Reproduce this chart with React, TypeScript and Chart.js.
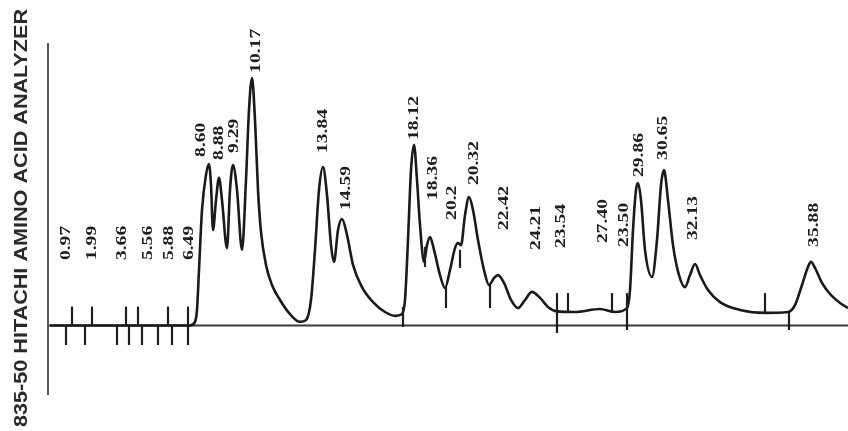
import React, { useEffect, useRef } from "react";
import { Chart, registerables } from "chart.js";

Chart.register(...registerables);

// Recorder trace: chart position (mm along paper) vs detector signal (arbitrary units)
const traceX = [
  0, 35, 36.25, 36.75, 37.25, 38, 39, 39.75, 40.25, 40.75, 41.5, 42.25, 43, 44.25, 45, 45.75, 46.75, 48,
  49, 49.75, 50.5, 51.25, 52, 52.75, 54, 55.5, 57.5, 60, 62.5, 64, 65.25, 66.25, 67.25, 68.25, 69.25,
  70.25, 71, 72, 73, 74.25, 75.75, 78, 80.75, 83.75, 86.25, 88, 88.75, 89.5, 90.25, 91, 91.75, 92.5,
  93.5, 94.25, 95, 96, 97.5, 98.75, 100, 101.25, 102, 102.75, 103.75, 104.75, 105.75, 107, 108.5,
  109.75, 111, 112, 113.5, 115.25, 117, 118.75, 120.5, 122.5, 124.5, 126.5, 131.25, 137.5, 141.25,
  144.25, 145, 145.75, 146.5, 147, 147.75, 148.75, 150.5, 151.75, 152.75, 153.5, 154.5, 155.75,
  157.25, 158.75, 160, 161.25, 162.5, 164.5, 167.5, 172.5, 178.75, 184.5, 186.25, 188, 189.5, 190.25,
  191.25, 193, 195, 197.5, 199.5,
];
const traceY = [
  0, 0, 1.2, 5.2, 18.5, 38.5, 50.2, 53.8, 46.8, 31.8, 41.8, 49.2, 41.8, 25.8, 45.2, 53.5, 45.2, 25.2,
  48.5, 71.8, 82.5, 68.5, 45.2, 31.2, 20.2, 13.5, 8.5, 3.8, 1.2, 1.8, 8.5, 25.2, 45.2, 52.8, 43.5,
  26.8, 21.2, 31.8, 35.5, 30.2, 20.2, 12.8, 7.8, 4.5, 3.2, 3.8, 8.5, 28.5, 51.8, 60.2, 48.5, 33.5,
  21.2, 26.8, 29.5, 25.2, 16.8, 12.5, 18.5, 25.8, 27.5, 26.8, 36.8, 42.8, 38.5, 28.5, 18.5,
  13.5, 15.8, 16.8, 14.2, 8.5, 5.8, 8.5, 11.2, 9.2, 6.2, 4.8, 4.5, 5.5, 4.5,
  5.8, 11.8, 31.8, 45.2, 47.5, 41.8, 25.2, 16.2, 28.5, 46.8, 51.8, 41.8, 26.8,
  16.8, 12.8, 16.8, 20.5, 16.8, 11.8, 7.8, 5.2, 4.2, 4.5, 6.8, 13.5, 19.5, 21.2,
  19.2, 14.2, 10.5, 7.5, 5.8,
];

// Retention-time labels printed by the integrator
const peakLabels = [
  "0.97", "1.99", "3.66", "5.56", "5.88", "6.49", "8.60", "8.88", "9.29", "10.17", "13.84", "14.59",
  "18.12", "18.36", "20.2", "20.32", "22.42", "24.21", "23.54", "27.40", "23.50", "29.86", "30.65",
  "32.13", "35.88",
];
const labelX = [
  3.75, 10.4, 17.9, 24.2, 29.6, 34.6, 37.5, 42, 45.75, 51.25, 68, 73.75,
  90.75, 95.5, 100.25, 105.75, 113.25, 121.25, 127.5, 138, 143.25, 147, 153,
  160.5, 190.75,
];
const labelBottomY = [
  21.8, 21.8, 21.8, 21.8, 21.8, 21.8, 56.2, 55.2, 57.5, 84.2, 57.5, 38.5,
  61.8, 41.8, 35.2, 46.8, 31.8, 25.2, 25.8, 27.5, 26.2, 49.5, 55.2,
  28.5, 26.2,
];

// Event marks on the zero line
const baseTickUpX = [5.4, 10.4, 19, 22.1, 29.6, 34.6];
const baseTickDownX = [4, 8.75, 16.7, 19.8, 22.9, 27.1, 30.4, 34.6];
const baseTickUpTop = 6.3;
const baseTickDownBottom = -6.5;

// Event marks drawn on the trace
const traceTickX = [88.25, 93.75, 99, 102.5, 110, 126.75, 129.5, 140.5, 144.25, 178.75, 184.75];
const traceTickTop = [6.2, 26.2, 12.8, 25.2, 13.5, 10.8, 10.8, 10.8, 10.8, 10.8, 4.5];
const traceTickBottom = [-0.5, 19.5, 5.8, 19.2, 5.8, -2.5, 4.2, 4.2, -1.5, 4.5, -1.5];

const axisLineX = -0.5;
const axisLineTop = 94.2;
const axisLineBottom = -23.2;
const titleText = "835-50 HITACHI AMINO ACID ANALYZER";

const overlayPlugin = {
  id: "chromOverlay",
  beforeDatasetsDraw(chart: any) {
    const { ctx, scales } = chart;
    const xs = scales.x;
    const ys = scales.y;
    ctx.save();
    // zero line
    ctx.strokeStyle = "#3a3a3a";
    ctx.lineWidth = 2;
    ctx.beginPath();
    ctx.moveTo(xs.getPixelForValue(axisLineX), ys.getPixelForValue(0));
    ctx.lineTo(xs.getPixelForValue(199.5), ys.getPixelForValue(0));
    ctx.stroke();
    // left vertical line
    ctx.strokeStyle = "#555";
    ctx.lineWidth = 2;
    ctx.beginPath();
    ctx.moveTo(xs.getPixelForValue(axisLineX), ys.getPixelForValue(axisLineTop));
    ctx.lineTo(xs.getPixelForValue(axisLineX), ys.getPixelForValue(axisLineBottom));
    ctx.stroke();
    // title
    ctx.fillStyle = "#2a2a2a";
    ctx.font = "bold 18px 'Liberation Sans', Arial, sans-serif";
    const w = ctx.measureText(titleText).width;
    const target = 418;
    ctx.translate(27, 427);
    ctx.rotate(-Math.PI / 2);
    ctx.scale(target / w, 1);
    ctx.textAlign = "left";
    ctx.textBaseline = "alphabetic";
    ctx.fillText(titleText, 0, 0);
    ctx.restore();
  },
  afterDatasetsDraw(chart: any) {
    const { ctx, scales } = chart;
    const xs = scales.x;
    const ys = scales.y;
    ctx.save();
    ctx.strokeStyle = "#1e1e1e";
    ctx.lineWidth = 2.2;
    const zero = ys.getPixelForValue(0);
    baseTickUpX.forEach((v) => {
      const px = Math.round(xs.getPixelForValue(v));
      ctx.beginPath();
      ctx.moveTo(px, zero);
      ctx.lineTo(px, ys.getPixelForValue(baseTickUpTop));
      ctx.stroke();
    });
    baseTickDownX.forEach((v) => {
      const px = Math.round(xs.getPixelForValue(v));
      ctx.beginPath();
      ctx.moveTo(px, zero);
      ctx.lineTo(px, ys.getPixelForValue(baseTickDownBottom));
      ctx.stroke();
    });
    traceTickX.forEach((v, i) => {
      const px = Math.round(xs.getPixelForValue(v));
      ctx.beginPath();
      ctx.moveTo(px, ys.getPixelForValue(traceTickTop[i]));
      ctx.lineTo(px, ys.getPixelForValue(traceTickBottom[i]));
      ctx.stroke();
    });
    // labels
    ctx.fillStyle = "#1e1e1e";
    ctx.font = "bold 14px 'Liberation Serif', 'Times New Roman', serif";
    ctx.textAlign = "left";
    ctx.textBaseline = "alphabetic";
    peakLabels.forEach((t, i) => {
      const px = xs.getPixelForValue(labelX[i]);
      const py = ys.getPixelForValue(labelBottomY[i]);
      ctx.save();
      ctx.translate(px, py);
      ctx.rotate(-Math.PI / 2);
      ctx.scale(1.4, 1);
      ctx.fillText(t, 0, 4.7);
      ctx.restore();
    });
    ctx.restore();
  },
};

export default function App() {
  const ref = useRef<HTMLCanvasElement | null>(null);
  useEffect(() => {
    if (!ref.current) return;
    const data = traceX.map((x, i) => ({ x, y: traceY[i] }));
    const chart = new Chart(ref.current, {
      type: "line",
      data: {
        datasets: [
          {
            data,
            borderColor: "#1a1a1a",
            borderWidth: 2.6,
            pointRadius: 0,
            cubicInterpolationMode: "monotone",
            fill: false,
            clip: false as any,
          },
        ],
      },
      options: {
        animation: false,
        responsive: false,
        devicePixelRatio: 1,
        parsing: false as any,
        layout: { padding: { left: 40, right: 0, top: 0, bottom: 0 } },
        plugins: { legend: { display: false }, tooltip: { enabled: false }, title: { display: false } },
        scales: {
          x: { type: "linear", min: -2.5, max: 199.5, display: false },
          y: { type: "linear", min: -35.17, max: 108.5, display: false },
        },
      },
      plugins: [overlayPlugin],
    });
    return () => chart.destroy();
  }, []);
  return (
    <div style={{ position: "absolute", left: 0, top: 0, width: 848, height: 431, background: "#fff" }}>
      <canvas ref={ref} width={848} height={431} />
    </div>
  );
}
